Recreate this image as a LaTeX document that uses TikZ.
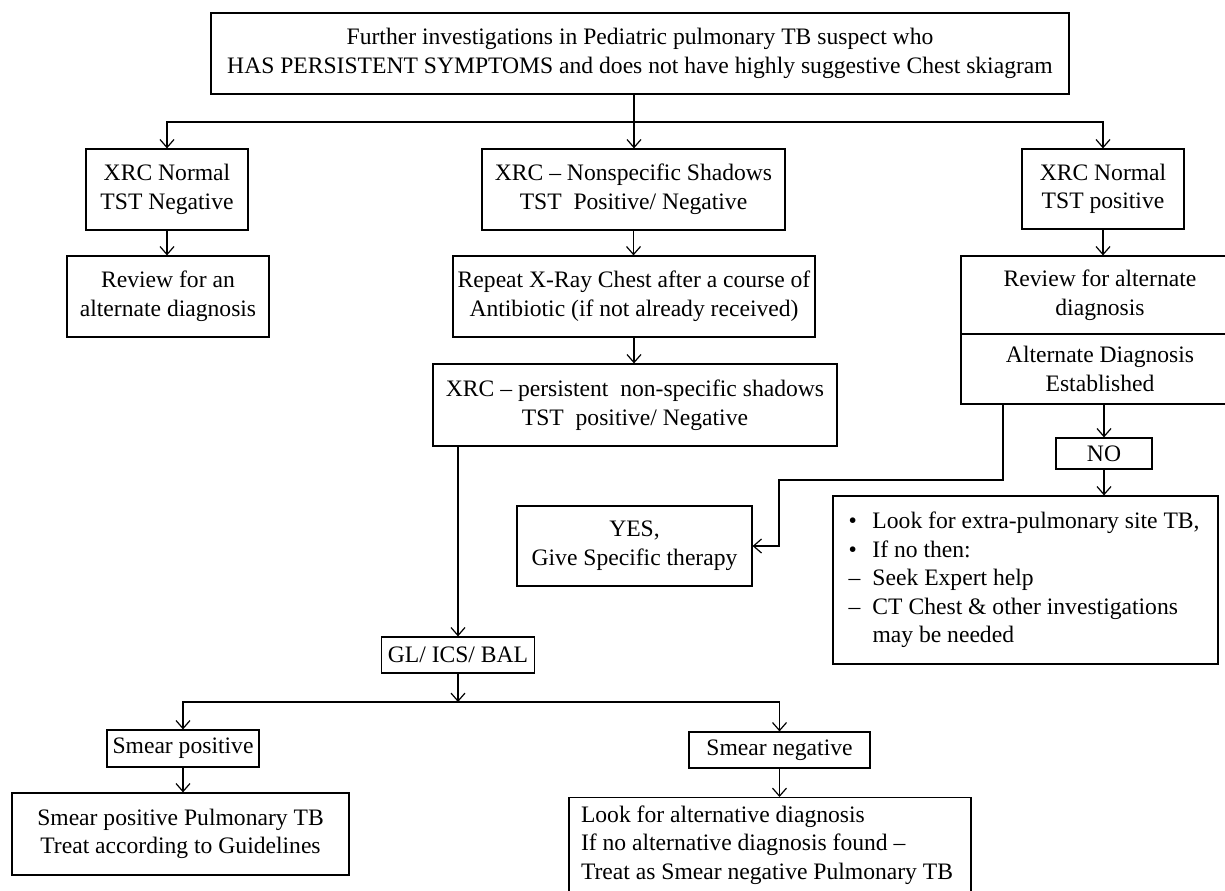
\documentclass[tikz,border=0pt]{standalone}
\usepackage{fontspec}
\setmainfont{Liberation Serif}
\usepackage{tikz}
\usetikzlibrary{arrows.meta,positioning}
\newcommand{\mk}[1]{\makebox[12pt][l]{#1}}

\begin{document}
\begin{tikzpicture}[x=0.5pt, y=-0.5pt, line width=0.6pt,
	>={Straight Barb[length=4pt,width=7pt]},
	every node/.style={font=\fontsize{11.8}{14.3}\selectfont},
	box/.style={draw, align=center, inner xsep=2pt, inner ysep=1pt}]
	
	\path[use as bounding box, fill=white] (0,0) rectangle (1225,890);
	
	\node [box, minimum width=429pt, minimum height=40.5pt] (top) at (640,53.5)
	{Further investigations in Pediatric pulmonary TB suspect who\\HAS PERSISTENT SYMPTOMS and does not have highly suggestive Chest skiagram};
	
	\node [box, minimum width=81pt, minimum height=40.5pt] (xrcneg) at (167,189.5) {XRC Normal\\TST Negative};
	\node [box, minimum width=101pt, minimum height=40.5pt] (revneg) at (168,296.5) {Review for an\\alternate diagnosis};
	
	\node [box, minimum width=151.5pt, minimum height=40.5pt] (xrcns) at (633.5,189.5) {XRC – Nonspecific Shadows\\TST\ \ Positive/ Negative};
	\node [box, minimum width=181pt, minimum height=40.5pt] (repeat) at (634,296.5) {Repeat X-Ray Chest after a course of\\Antibiotic (if not already received)};
	\node [box, minimum width=202pt, minimum height=41pt] (xrcpers) at (635,405) {XRC – persistent\ \ non-specific shadows\\TST\ \ positive/ Negative};
	
	\node [box, minimum width=81pt, minimum height=40pt] (xrcpos) at (1103,189) {XRC Normal\\TST positive};
	\node [box, minimum width=139pt, minimum height=39pt] (review) at (1100,295) {Review for alternate\\diagnosis};
	\node [box, minimum width=139pt, minimum height=35pt] (altdx) at (1100,369) {Alternate Diagnosis\\Established};
	\node [box, minimum width=48pt, minimum height=15.5pt] (no) at (1104,453.5) {NO};
	\node [box, align=flush left, text width=177pt, inner xsep=7.75pt, minimum height=84pt] (bullets) at (1025.5,580)
	{\mk{•}Look for extra-pulmonary site TB,\\\mk{•}If no then:\\\mk{–}Seek Expert help\\\mk{–}CT Chest \& other investigations\\\mk{}may be needed};
	
	\node [box, minimum width=117.5pt, minimum height=40pt] (yes) at (634.5,546) {YES,\\Give Specific therapy};
	
	\node [box, minimum width=76.5pt, minimum height=18pt] (gl) at (458,655) {GL/ ICS/ BAL};
	\node [box, minimum width=76pt, minimum height=18.5pt] (smpos) at (183,748.5) {Smear positive};
	\node [box, minimum width=90.5pt, minimum height=18pt] (smneg) at (779.5,750) {Smear negative};
	\node [box, minimum width=168.5pt, minimum height=41pt] (smposres) at (180.5,834) {Smear positive Pulmonary TB\\Treat according to Guidelines};
	\node [box, align=flush left, text width=189pt, inner xsep=6pt, inner ysep=4pt, text depth=60pt, anchor=north] (smnegres) at (770,797)
	{Look for alternative diagnosis\\If no alternative diagnosis found –\\Treat as Smear negative Pulmonary TB};
	
	\coordinate (split) at (634,122);
	\coordinate (split2) at (458,702);
	\coordinate (bend1) at (1003,480);
	\coordinate (bend2) at (779,480);
	
	\draw (top.south -| split) -- (split);
	\draw [->] (split) -| (xrcneg.north);
	\draw [->] (split) -- (split |- xrcns.north);
	\draw [->] (split) -| (xrcpos.north);
	
	\foreach \a/\b in {xrcneg/revneg, xrcns/repeat, repeat/xrcpers, xrcpos/review, no/bullets, smpos/smposres, smneg/smnegres}
	\draw [->] (\a) -- (\a |- \b.north);
	
	\draw [->] (altdx.south -| no) -- (no);
	\draw [->] (altdx.south -| bend1) -- (bend1) -- (bend2) |- (yes.east);
	
	\draw [->] (xrcpers.south -| gl) -- (gl);
	\draw [->] (gl) -- (split2);
	\draw [->] (split2) -| (smpos.north);
	\draw [->] (split2) -| (smneg.north);
	
\end{tikzpicture}
\end{document}
